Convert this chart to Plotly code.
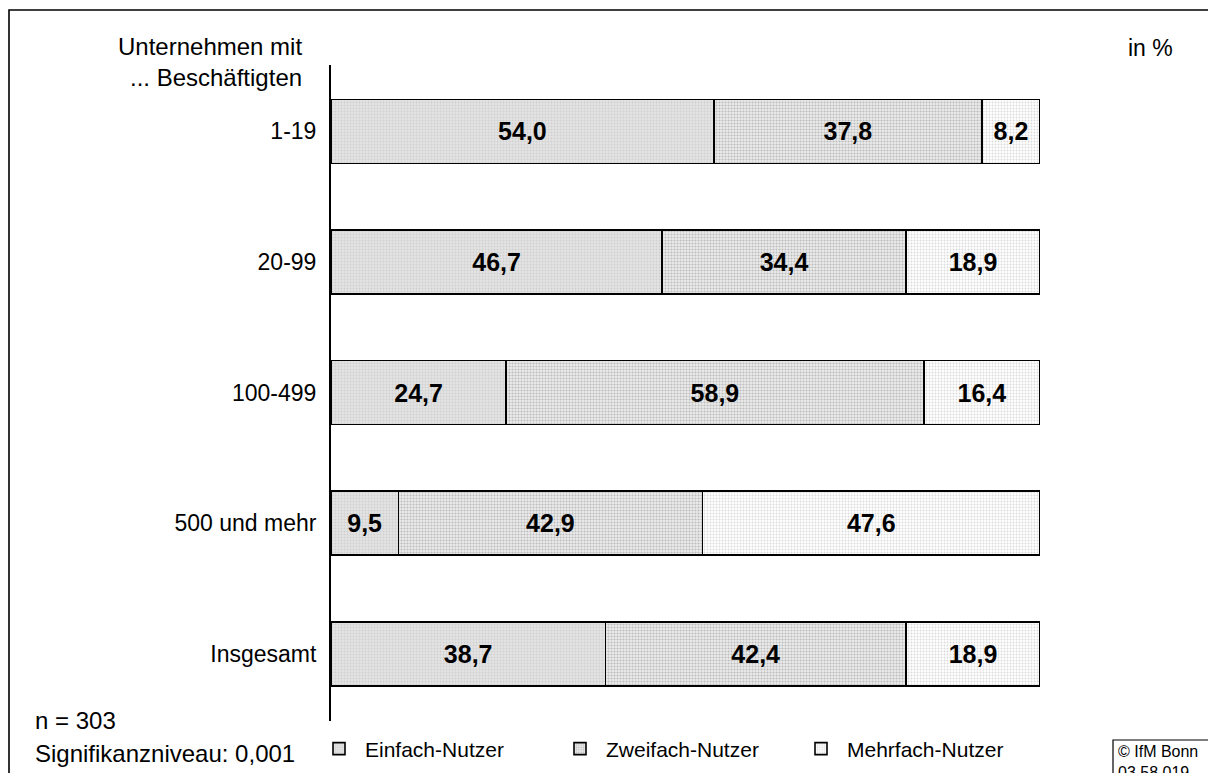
import plotly.graph_objects as go

categories = ["1-19", "20-99", "100-499", "500 und mehr", "Insgesamt"]
einfach = [54.0, 46.7, 24.7, 9.5, 38.7]
zweifach = [37.8, 34.4, 58.9, 42.9, 42.4]
mehrfach = [8.2, 18.9, 16.4, 47.6, 18.9]
series_names = ["Einfach-Nutzer", "Zweifach-Nutzer", "Mehrfach-Nutzer"]

W, H = 1208, 773
L, R, T, B = 331, 168, 65, 52
PW, PH = W - L - R, H - T - B


def px(x):
    return (x - L) / PW


def py(y):
    return (H - B - y) / PH


def fmt(v):
    return f"{v:.1f}".replace(".", ",")


FONT = "Liberation Sans, Arial, sans-serif"

styles = [
    dict(bg="#e4e4e4", fg="#cfcfcf", size=3, solidity=0.3),
    dict(bg="#ececec", fg="#bcbcbc", size=3, solidity=0.4),
    dict(bg="#ffffff", fg="#dadada", size=3, solidity=0.3),
]

fig = go.Figure()
for name, vals, st in zip(series_names, [einfach, zweifach, mehrfach], styles):
    fig.add_trace(go.Bar(
        y=categories, x=vals, name=name, orientation="h",
        text=[fmt(v) for v in vals], textposition="inside",
        insidetextanchor="middle", textangle=0,
        textfont=dict(family=FONT, size=25, color="black", weight="bold"),
        marker=dict(color=st["bg"], line=dict(color="black", width=1.6),
                    pattern=dict(shape=".", bgcolor=st["bg"], fgcolor=st["fg"],
                                 size=st["size"], solidity=st["solidity"],
                                 fillmode="replace")),
        width=0.49, hoverinfo="skip",
    ))

fig.update_layout(
    width=W, height=H, barmode="stack", autosize=False,
    margin=dict(l=L, r=R, t=T, b=B, pad=0, autoexpand=False),
    plot_bgcolor="white", paper_bgcolor="white",
    font=dict(family=FONT, size=24, color="black"),
    xaxis=dict(range=[0, 100], visible=False, fixedrange=True),
    yaxis=dict(type="category", range=[4.515, -0.508], showline=True,
               linecolor="black", linewidth=2, ticks="", showgrid=False,
               zeroline=False, ticklabelstandoff=8, automargin=False,
               fixedrange=True,
               tickfont=dict(family=FONT, size=23, color="black")),
    showlegend=True,
    legend=dict(orientation="h", x=px(313), xanchor="left", y=py(749),
                yanchor="middle", font=dict(family=FONT, size=21, color="black"),
                entrywidth=184, entrywidthmode="pixels", itemwidth=42,
                traceorder="normal", bgcolor="rgba(0,0,0,0)",
                itemclick=False, itemdoubleclick=False),
)

# outer frame
fig.add_shape(type="rect", xref="paper", yref="paper",
              x0=px(9), x1=px(1215), y0=py(785), y1=py(10),
              line=dict(color="black", width=1.6), fillcolor="rgba(0,0,0,0)",
              layer="below")
# copyright box
fig.add_shape(type="rect", xref="paper", yref="paper",
              x0=px(1113), x1=px(1215), y0=py(785), y1=py(740),
              line=dict(color="black", width=1.2), fillcolor="white")

ann = [
    dict(text="Unternehmen mit<br>... Beschäftigten", x=px(304), y=py(62),
         xanchor="right", yanchor="middle", align="right", size=24),
    dict(text="in %", x=px(1126), y=py(48), xanchor="left", yanchor="middle",
         align="left", size=23),
    dict(text="n = 303", x=px(33), y=py(720), xanchor="left", yanchor="middle",
         align="left", size=24),
    dict(text="Signifikanzniveau: 0,001", x=px(33), y=py(753), xanchor="left",
         yanchor="middle", align="left", size=24),
    dict(text="© IfM Bonn<br>03 58 019", x=px(1116), y=py(741), xanchor="left",
         yanchor="top", align="left", size=16),
]
for a in ann:
    fig.add_annotation(text=a["text"], x=a["x"], y=a["y"], xref="paper",
                       yref="paper", xanchor=a["xanchor"], yanchor=a["yanchor"],
                       align=a["align"], showarrow=False,
                       font=dict(family=FONT, size=a["size"], color="black"))

fig.write_html("out.html", config={"displayModeBar": False},
               post_script="document.body.style.margin='0';"
                           "document.body.style.overflow='hidden';")
